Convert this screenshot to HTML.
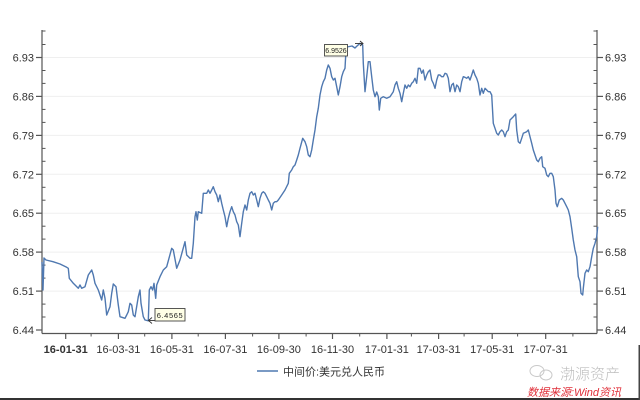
<!DOCTYPE html>
<html>
<head>
<meta charset="utf-8">
<style>
  html,body{margin:0;padding:0;background:#fff;}
  body{width:640px;height:400px;overflow:hidden;}
  svg{display:block;}
  text{font-family:"Liberation Sans","Noto Sans CJK SC",sans-serif;}
</style>
</head>
<body>
<svg width="640" height="400" viewBox="0 0 640 400" xmlns="http://www.w3.org/2000/svg">
  <rect x="0" y="0" width="640" height="400" fill="#ffffff"/>

  <!-- gridlines -->
  <g stroke="#efefef" stroke-width="1">
    <line x1="42" y1="57.5" x2="597" y2="57.5"/>
    <line x1="42" y1="96.4" x2="597" y2="96.4"/>
    <line x1="42" y1="135.4" x2="597" y2="135.4"/>
    <line x1="42" y1="174.3" x2="597" y2="174.3"/>
    <line x1="42" y1="213.2" x2="597" y2="213.2"/>
    <line x1="42" y1="252.1" x2="597" y2="252.1"/>
    <line x1="42" y1="291.1" x2="597" y2="291.1"/>
  </g>

  <!-- axes -->
  <g stroke="#555" stroke-width="1.2" fill="none">
    <line x1="42" y1="30" x2="42" y2="333.5"/>
    <line x1="597" y1="30" x2="597" y2="333.5"/>
    <line x1="42" y1="333.5" x2="597" y2="333.5"/>
  </g>

  <!-- left major ticks -->
  <g stroke="#555" stroke-width="1.2">
    <line x1="36" y1="57.5" x2="42" y2="57.5"/>
    <line x1="36" y1="96.4" x2="42" y2="96.4"/>
    <line x1="36" y1="135.4" x2="42" y2="135.4"/>
    <line x1="36" y1="174.3" x2="42" y2="174.3"/>
    <line x1="36" y1="213.2" x2="42" y2="213.2"/>
    <line x1="36" y1="252.1" x2="42" y2="252.1"/>
    <line x1="36" y1="291.1" x2="42" y2="291.1"/>
    <line x1="36" y1="330" x2="42" y2="330"/>
    <!-- right major -->
    <line x1="597" y1="57.5" x2="603" y2="57.5"/>
    <line x1="597" y1="96.4" x2="603" y2="96.4"/>
    <line x1="597" y1="135.4" x2="603" y2="135.4"/>
    <line x1="597" y1="174.3" x2="603" y2="174.3"/>
    <line x1="597" y1="213.2" x2="603" y2="213.2"/>
    <line x1="597" y1="252.1" x2="603" y2="252.1"/>
    <line x1="597" y1="291.1" x2="603" y2="291.1"/>
    <line x1="597" y1="330" x2="603" y2="330"/>
  </g>
  <!-- minor y ticks -->
  <g stroke="#555" stroke-width="1">
    <line x1="42" y1="31" x2="45.5" y2="31"/>
    <line x1="42" y1="44.5" x2="45.5" y2="44.5"/>
    <line x1="42" y1="70.5" x2="45.5" y2="70.5"/>
    <line x1="42" y1="83.4" x2="45.5" y2="83.4"/>
    <line x1="42" y1="109.4" x2="45.5" y2="109.4"/>
    <line x1="42" y1="122.4" x2="45.5" y2="122.4"/>
    <line x1="42" y1="148.4" x2="45.5" y2="148.4"/>
    <line x1="42" y1="161.3" x2="45.5" y2="161.3"/>
    <line x1="42" y1="187.3" x2="45.5" y2="187.3"/>
    <line x1="42" y1="200.2" x2="45.5" y2="200.2"/>
    <line x1="42" y1="226.2" x2="45.5" y2="226.2"/>
    <line x1="42" y1="239.1" x2="45.5" y2="239.1"/>
    <line x1="42" y1="265.1" x2="45.5" y2="265.1"/>
    <line x1="42" y1="278.1" x2="45.5" y2="278.1"/>
    <line x1="42" y1="304.1" x2="45.5" y2="304.1"/>
    <line x1="42" y1="317" x2="45.5" y2="317"/>

    <line x1="593.5" y1="31" x2="597" y2="31"/>
    <line x1="593.5" y1="44.5" x2="597" y2="44.5"/>
    <line x1="593.5" y1="70.5" x2="597" y2="70.5"/>
    <line x1="593.5" y1="83.4" x2="597" y2="83.4"/>
    <line x1="593.5" y1="109.4" x2="597" y2="109.4"/>
    <line x1="593.5" y1="122.4" x2="597" y2="122.4"/>
    <line x1="593.5" y1="148.4" x2="597" y2="148.4"/>
    <line x1="593.5" y1="161.3" x2="597" y2="161.3"/>
    <line x1="593.5" y1="187.3" x2="597" y2="187.3"/>
    <line x1="593.5" y1="200.2" x2="597" y2="200.2"/>
    <line x1="593.5" y1="226.2" x2="597" y2="226.2"/>
    <line x1="593.5" y1="239.1" x2="597" y2="239.1"/>
    <line x1="593.5" y1="265.1" x2="597" y2="265.1"/>
    <line x1="593.5" y1="278.1" x2="597" y2="278.1"/>
    <line x1="593.5" y1="304.1" x2="597" y2="304.1"/>
    <line x1="593.5" y1="317" x2="597" y2="317"/>
  </g>

  <!-- x ticks -->
  <g stroke="#555" stroke-width="1.2">
    <line x1="65.7" y1="333.5" x2="65.7" y2="339"/>
    <line x1="118.4" y1="333.5" x2="118.4" y2="339"/>
    <line x1="171.9" y1="333.5" x2="171.9" y2="339"/>
    <line x1="225.4" y1="333.5" x2="225.4" y2="339"/>
    <line x1="278.9" y1="333.5" x2="278.9" y2="339"/>
    <line x1="332.5" y1="333.5" x2="332.5" y2="339"/>
    <line x1="386.9" y1="333.5" x2="386.9" y2="339"/>
    <line x1="438.6" y1="333.5" x2="438.6" y2="339"/>
    <line x1="492.2" y1="333.5" x2="492.2" y2="339"/>
    <line x1="545.7" y1="333.5" x2="545.7" y2="339"/>
  </g>
  <g stroke="#555" stroke-width="1">
    <line x1="91.1" y1="333.5" x2="91.1" y2="336.5"/>
    <line x1="144.7" y1="333.5" x2="144.7" y2="336.5"/>
    <line x1="198.2" y1="333.5" x2="198.2" y2="336.5"/>
    <line x1="252.6" y1="333.5" x2="252.6" y2="336.5"/>
    <line x1="306.1" y1="333.5" x2="306.1" y2="336.5"/>
    <line x1="359.7" y1="333.5" x2="359.7" y2="336.5"/>
    <line x1="411.4" y1="333.5" x2="411.4" y2="336.5"/>
    <line x1="464.1" y1="333.5" x2="464.1" y2="336.5"/>
    <line x1="517.6" y1="333.5" x2="517.6" y2="336.5"/>
    <line x1="572.9" y1="333.5" x2="572.9" y2="336.5"/>
  </g>

  <!-- y labels -->
  <g font-size="11" fill="#333" text-anchor="end">
    <text x="34" y="61.5">6.93</text>
    <text x="34" y="100.4">6.86</text>
    <text x="34" y="139.4">6.79</text>
    <text x="34" y="178.3">6.72</text>
    <text x="34" y="217.2">6.65</text>
    <text x="34" y="256.1">6.58</text>
    <text x="34" y="295.1">6.51</text>
    <text x="34" y="334">6.44</text>
  </g>
  <g font-size="11" fill="#333" text-anchor="start">
    <text x="605" y="61.5">6.93</text>
    <text x="605" y="100.4">6.86</text>
    <text x="605" y="139.4">6.79</text>
    <text x="605" y="178.3">6.72</text>
    <text x="605" y="217.2">6.65</text>
    <text x="605" y="256.1">6.58</text>
    <text x="605" y="295.1">6.51</text>
    <text x="605" y="334">6.44</text>
  </g>

  <!-- x labels -->
  <g font-size="11" fill="#333" text-anchor="middle">
    <text x="65.7" y="353" font-weight="bold">16-01-31</text>
    <text x="118.4" y="353">16-03-31</text>
    <text x="171.9" y="353">16-05-31</text>
    <text x="225.4" y="353">16-07-31</text>
    <text x="278.9" y="353">16-09-30</text>
    <text x="332.5" y="353">16-11-30</text>
    <text x="386.9" y="353">17-01-31</text>
    <text x="438.6" y="353">17-03-31</text>
    <text x="492.2" y="353">17-05-31</text>
    <text x="545.7" y="353">17-07-31</text>
  </g>

  <!-- series -->
  <polyline fill="none" stroke="#4f78b0" stroke-width="1.4" stroke-linejoin="round"
    points="42,262 43,290 44,258 46,260 53,261.7 60,264 66.7,267.3 68.3,268.3 69.3,278.3 73.3,283.3 78.3,288.3 80,285 81.7,288.3 85,286.7 88.3,275 91.7,270 93.3,275 95,283.3 98.3,290 100,295 101.7,300 103.3,290 105,298.3 106.7,315 110,306.7 111.7,293.3 113.3,284 116,286.7 118.3,305 120,316.7 125,318.3 126.7,315 128.3,311.7 130,303.3 131.7,305 133.3,315 135,316.7 138.3,296.7 140,290 141,303.3 143.3,316.7 145,320 148.3,320.8 149.3,290 151,286.7 152.7,290 154,283.3 155.7,298.3 156.7,285 160,276.7 163.3,270 166.7,266.7 171.7,248.3 173.3,250 176.7,268.3 180,260 185,241.7 186.7,255 190,258.3 191.7,258.3 193.3,243.3 195,216.7 196,211.7 197.3,220 198.3,211.7 201.7,213.3 203.3,193.3 206.7,193.3 208.3,190 210,193.3 211.7,190 213.3,186.7 215,191.7 216.7,195 218.3,201.7 220,195 221.7,203.3 223.3,210 225,216.7 226.7,226.7 228.3,218.3 230,211.7 231.7,206.7 233.3,211.7 235,215 236.7,221.7 238.3,225 240,236.7 241.7,223.3 243.3,211.7 245,205 246.7,210 248.3,200 250,193.3 251.7,191.7 253.3,195 255,193.3 256.7,200 258.3,206.7 260,198.3 261.7,193.3 263.3,191.7 265,193.3 266.7,196.7 268.3,200 270,203.3 271.7,210 273.3,203.3 275,201.7 276.7,201.7 278.3,200 281.7,195 285,190 288.3,183.3 289.3,173.3 291.7,170 293.3,166.7 295,165 296.7,160 298.3,155 300,148.3 302.7,138.3 305,141.7 306.7,146.7 308.3,155 310,156.7 311.7,150 313.3,140 315,130 316.7,116.7 318.3,108.3 320,95 321.7,86.7 323.3,81.7 325,78.3 326.7,70 328.3,65 330,68.3 331.7,76.7 333.3,80 335,78.3 336.7,86.7 338.3,95 340,86.7 341.7,76.7 343.3,71.7 345,68.3 346,50 347,47 352,46 355,48 357,46 360,43.3 362.7,45 363.3,63.3 365,91.7 366.7,76.7 368.3,61.7 370,61.7 371.7,76.7 373.3,90 375,96.7 376.7,92 378.3,96.7 379.3,110 380.7,98.3 383.3,96.7 386.7,98.3 390,96.7 393.3,91.7 395,85 396.7,81.7 398.3,88.3 400,93.3 401.7,101.7 403.3,93.3 405,85 406.7,88.3 408.3,85 410,86.7 411.7,83.3 413.3,81.7 415,78.3 416.7,83.3 418.3,68.3 420,68.3 421.7,73.3 423.3,70 425,80 426.7,75 428.3,71.7 430,70 431.7,80 433.3,83.3 435,88.3 436.7,80 438.3,75 440,75 441.7,76.7 443.3,76.7 445,73.3 446.7,74 448.3,78.3 450,91.7 451.7,85 453.3,83.3 455,91.7 456.7,85 458.3,86.7 460,91.7 461.7,81.7 463.3,76.7 465,77.3 466.7,78.3 468.3,76.7 470,80 471.7,75 473.3,70 475,75 476.7,78.3 478.3,83.3 480,95 481.7,88.3 483.3,93.3 485,88.3 486.7,90 488.3,91.7 490,91.7 491.7,95 493.3,123.3 495,128.3 496.7,133.3 498.3,135 500,131.7 501.7,130 503.3,131.7 505,136.7 506.7,131.7 508.3,130 510,120 513.3,116.7 515.7,114 516.7,130 518.3,141.7 520,143.3 521.7,138.3 523.3,133.3 526.7,131.7 528.3,130 530,136.7 531.7,143.3 533.3,150 535,155 536.7,160 538.3,161.7 540,158.3 541.7,156.7 542.7,166.7 545,168.3 546.7,175 548.3,176.7 550,173.3 551.7,173.3 553.3,176.7 555,190 556,203.3 557.3,206.7 559.3,200 561.7,198.3 563.3,200 565,203.3 566.7,206.7 568.3,210 570,216.7 571.7,228.3 573.3,240 575,250 576.7,256.7 578.3,276.7 580,281.7 581,293.3 582.7,295 583.3,288.3 585,273.3 586.7,270 588.3,271.7 590,266.7 591.7,256.7 593.3,248.3 595,243.3 596.7,236.7 597.7,226.7"/>

  <!-- annotation: min -->
  <g stroke="#333" stroke-width="0.9" fill="none">
    <polyline points="152,317.5 148.5,320.5 152,323.5"/>
    <line x1="148.5" y1="320.5" x2="155" y2="320.5"/>
  </g>
  <rect x="155" y="308.5" width="30" height="12.5" fill="#ffffe6" stroke="#444" stroke-width="0.9"/>
  <text x="170" y="318" font-size="7.5" fill="#222" text-anchor="middle" letter-spacing="0.6">6.4565</text>

  <!-- annotation: max -->
  <rect x="324.5" y="44.5" width="23" height="11.5" fill="#ffffe6" stroke="#444" stroke-width="0.9"/>
  <text x="336" y="53" font-size="7" fill="#222" text-anchor="middle">6.9526</text>
  <g stroke="#333" stroke-width="0.9" fill="none">
    <line x1="355" y1="43.5" x2="363" y2="43.5"/>
    <polyline points="360,41 363,43.5 360,46"/>
  </g>

  <!-- legend -->
  <line x1="257" y1="371" x2="278" y2="371" stroke="#4f78b0" stroke-width="1.6"/>
  <text x="283" y="375.5" font-size="11" fill="#333" font-family="'Liberation Sans','Noto Sans CJK SC',sans-serif">中间价:美元兑人民币</text>

  <!-- watermark -->
  <g fill="none" stroke="#c9c9c9" stroke-width="1">
    <ellipse cx="537" cy="371" rx="7" ry="5.5"/>
    <ellipse cx="546" cy="375" rx="6" ry="5"/>
  </g>
  <text x="560" y="379" font-size="15" fill="#bdbdbd" font-family="'Liberation Sans','Noto Sans CJK SC',sans-serif" font-weight="300">渤源资产</text>
  <text x="527" y="396" font-size="11" fill="#e0303a" font-style="italic" font-family="'Liberation Sans','Noto Sans CJK SC',sans-serif">数据来源:Wind资讯</text>

  <!-- bottom border -->
  <rect x="0" y="398" width="640" height="2" fill="#333"/>
  <rect x="638.5" y="345" width="1.5" height="55" fill="#444"/>
</svg>
</body>
</html>
